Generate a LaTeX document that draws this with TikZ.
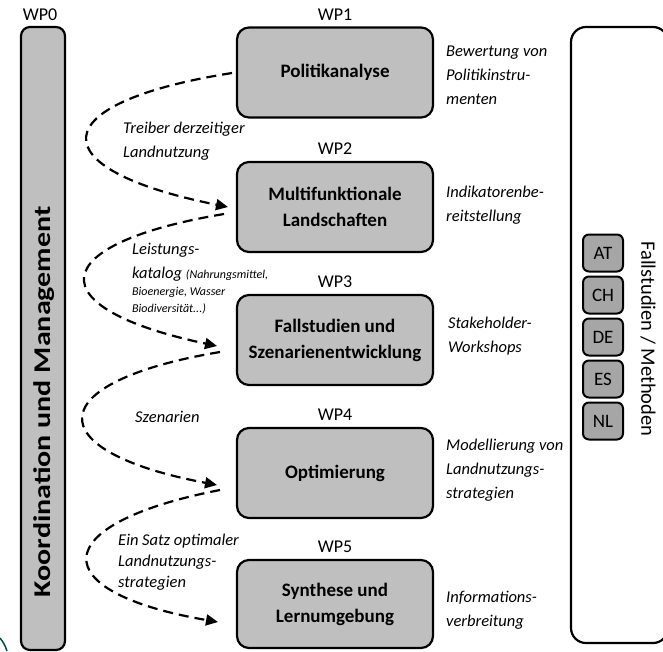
\documentclass[tikz,border=0pt]{standalone}
\usepackage{fontspec}
\setmainfont{Carlito}
\usetikzlibrary{positioning,arrows.meta}

\begin{document}
\begin{tikzpicture}[
    x=1pt, y=-1pt,
    every node/.style={inner sep=0pt},
    wp/.style={rectangle,rounded corners=12pt,draw,line width=2.2pt,fill=gray!50,
        minimum width=196pt,minimum height=90pt,align=center,
        font=\fontsize{19}{26}\selectfont\bfseries},
    wplabel/.style={font=\fontsize{18}{20}\selectfont},
    note/.style={align=left,font=\fontsize{16.5}{24}\selectfont\itshape},
    country/.style={rectangle,rounded corners=6pt,draw,line width=2pt,fill=gray!70,
        minimum width=40pt,minimum height=37pt,font=\fontsize{19}{20}\selectfont},
    flow/.style={dashed,dash pattern=on 10pt off 6pt,line width=2.2pt,-{Triangle[length=12pt,width=11pt]}}
]

\useasboundingbox (0,0) rectangle (663,651);
\clip (0,0) rectangle (663,651);

% WP0
\node[wp,minimum width=44pt,minimum height=623pt,rounded corners=9pt] (wp0) at (43,338.5) {};
\node[rotate=90,font=\fontsize{24}{26}\selectfont\bfseries] (koord) at (44,402) {\scalebox{1.25}[1]{Koordination und Management}};
\node[wplabel] (wp0lab) at (40,15) {WP0};

% work packages
\node[wp] (wp1) at (335,72.5) {Politikanalyse};
\node[wp] (wp2) at (335,207) {Multifunktionale\\Landschaften};
\node[wp] (wp3) at (335,340) {Fallstudien und\\Szenarienentwicklung};
\node[wp] (wp4) at (335,473) {Optimierung};
\node[wp,minimum height=88pt] (wp5) at (335,604) {Synthese und\\Lernumgebung};

\node[wplabel,above=6pt of wp1] (wp1lab) {WP1};
\node[wplabel,above=6pt of wp2] (wp2lab) {WP2};
\node[wplabel,above=6pt of wp3] (wp3lab) {WP3};
\node[wplabel,above=6pt of wp4] (wp4lab) {WP4};
\node[wplabel,above=6pt of wp5] (wp5lab) {WP5};

% results on the right
\node[note,anchor=west] (res1) at (446,75) {Bewertung von\\Politikinstru-\\menten};
\node[note,anchor=west] (res2) at (446,205) {Indikatorenbe-\\reitstellung};
\node[note,anchor=west] (res3) at (448,336) {Stakeholder-\\Workshops};
\node[note,anchor=west] (res4) at (446,470) {Modellierung von\\Landnutzungs-\\strategien};
\node[note,anchor=west] (res5) at (446,610) {Informations-\\verbreitung};

% case studies
\draw[rounded corners=15pt,line width=2.2pt] (571,27) rectangle (668,643);
\node[country] (at) at (603,253) {AT};
\node[country] (ch) at (603,295) {CH};
\node[country] (de) at (603,337) {DE};
\node[country] (es) at (603,379) {ES};
\node[country] (nl) at (603,421) {NL};
\node[rotate=-90,font=\fontsize{20.5}{22}\selectfont] (meth) at (648,339) {Fallstudien / Methoden};

% ends of the flows
\coordinate (wp1out) at (232,73);
\coordinate (wp2in) at (228,207);
\coordinate (wp2out) at (224,214);
\coordinate (wp3in) at (217,346);
\coordinate (wp3out) at (220,352);
\coordinate (wp4in) at (217,485);
\coordinate (wp4out) at (220,490);
\coordinate (wp5in) at (218,622);

\draw[flow] (wp1out) .. controls +(-190,30) and +(-190,-38) .. (wp2in);
\draw[flow] (wp2out) .. controls +(-180,30) and +(-180,-38) .. (wp3in);
\draw[flow] (wp3out) .. controls +(-180,30) and +(-180,-34) .. (wp4in);
\draw[flow] (wp4out) .. controls +(-175,34) and +(-175,-30) .. (wp5in);

\node[note,anchor=west] (treib) at (123,141) {Treiber derzeitiger\\Landnutzung};
\node[note,anchor=west] (leist) at (132,279) {Leistungs-\\katalog {\fontsize{12}{14}\selectfont (Nahrungsmittel,}\\[-7pt]
    {\fontsize{12}{14}\selectfont Bioenergie, Wasser}\\[-7pt]{\fontsize{12}{14}\selectfont Biodiversität...)}};
\node[note,anchor=west] (szen) at (135,417) {Szenarien};
\node[note,anchor=west,font=\fontsize{16.5}{21}\selectfont\itshape] (satz) at (118,562) {Ein Satz optimaler\\Landnutzungs-\\strategien};

\draw[teal!60!black,line width=1.5pt] (0,638) to[bend left=10] (7,651);

\end{tikzpicture}
\end{document}
